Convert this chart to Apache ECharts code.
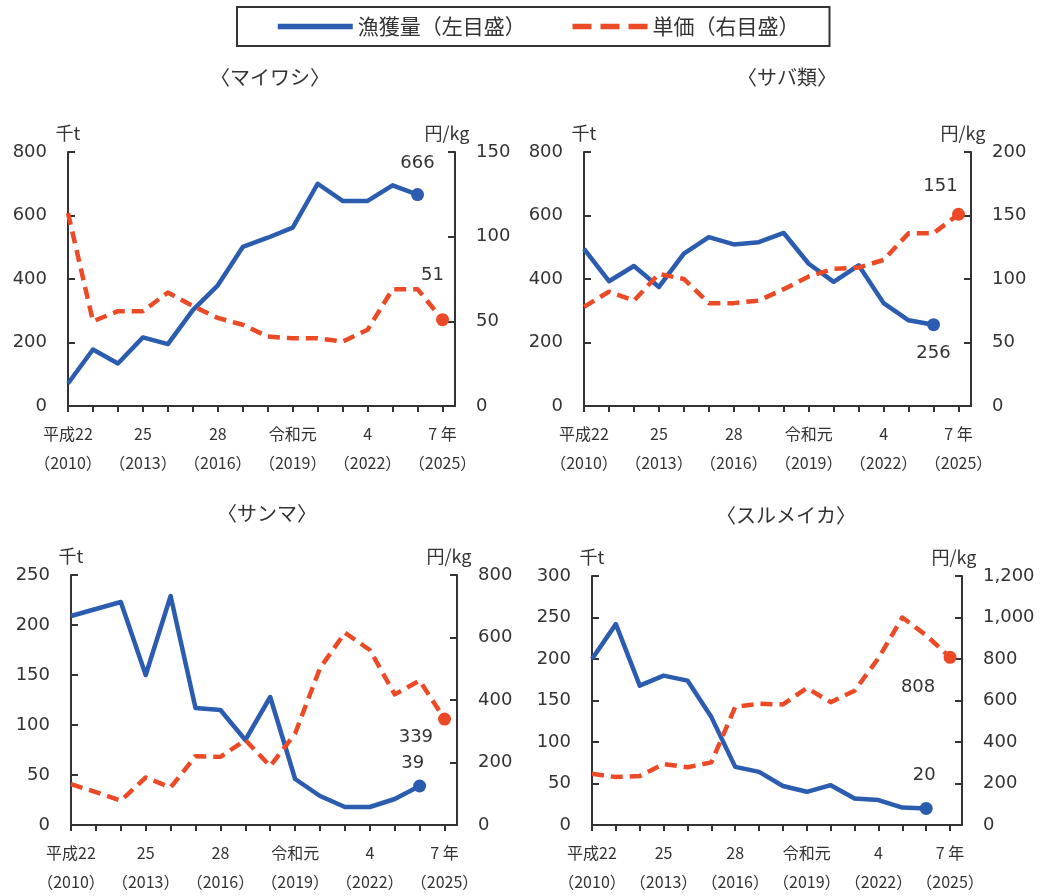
<!DOCTYPE html>
<html>
<head>
<meta charset="utf-8">
<script src="https://cdn.jsdelivr.net/npm/echarts@6/dist/echarts.min.js"></script>
<style>
  html, body { margin: 0; padding: 0; background: #ffffff; }
  #chart { width: 1042px; height: 896px; }
</style>
</head>
<body>
<div id="chart"></div>
<script>
// Years on the horizontal axis (catch runs to 2024, price to 2025)
const years = [2010, 2011, 2012, 2013, 2014, 2015, 2016, 2017, 2018, 2019, 2020, 2021, 2022, 2023, 2024, 2025];
const labelYears = [2010, 2013, 2016, 2019, 2022, 2025];
const yearLabels = ['平成22\n（2010）', '25\n（2013）', '28\n（2016）', '令和元\n（2019）', '4\n（2022）', '7 年\n（2025）'];

const panelTitles = ['〈マイワシ〉', '〈サバ類〉', '〈サンマ〉', '〈スルメイカ〉'];
const catchName = '漁獲量（左目盛）';
const priceName = '単価（右目盛）';
const catchUnit = '千t';
const priceUnit = '円/kg';

// Catch (thousand tonnes), 2010-2024
const sardineCatch  = [71, 178, 134, 216, 195, 302, 380, 501, 530, 562, 700, 646, 646, 695, 666];
const mackerelCatch = [495, 393, 441, 375, 480, 532, 509, 516, 545, 448, 391, 443, 324, 270, 256];
const sauryCatch    = [209, 216, 223, 150, 229, 117, 115, 85, 128, 46, 29, 18, 18, 26, 39];
const squidCatch    = [200, 242, 168, 180, 174, 130, 70, 64, 47, 40, 48, 32, 30, 21, 20];

// Unit price (yen/kg), 2010-2025
const sardinePrice  = [114, 50, 56, 56, 67, 59, 52, 48, 41, 40, 40, 38, 45, 69, 69, 51];
const mackerelPrice = [78, 90, 83, 104, 100, 81, 81, 83, 92, 102, 108, 109, 115, 136, 136, 151];
const sauryPrice    = [131, 105, 78, 152, 120, 220, 218, 272, 188, 293, 502, 615, 560, 418, 462, 339];
const squidPrice    = [247, 231, 236, 294, 278, 302, 569, 584, 581, 660, 592, 647, 804, 1000, 914, 808];

// Axis scales per panel: [min, max, interval]
const catchScales = [[0, 800, 200], [0, 800, 200], [0, 250, 50], [0, 300, 50]];
const priceScales = [[0, 150, 50], [0, 200, 50], [0, 800, 200], [0, 1200, 200]];

const catchSets = [sardineCatch, mackerelCatch, sauryCatch, squidCatch];
const priceSets = [sardinePrice, mackerelPrice, sauryPrice, squidPrice];

const BLUE = '#2b5cb0';
const RED = '#ec4a26';
const INK = '#333333';
const NUM_FONT = "'DejaVu Sans', 'Noto Sans CJK JP', sans-serif";
const JP_FONT = "'Noto Sans CJK JP', sans-serif";

const grids = [
  { left: 68,  top: 152, width: 387, height: 254 },
  { left: 584, top: 152, width: 387, height: 254 },
  { left: 71,  top: 575, width: 386, height: 255 },
  { left: 592, top: 576, width: 370, height: 255 }
];

// Placement of the value labels on the end points
const catchLabelPos = [
  { position: 'top', distance: 0, offset: [0, -16] },
  { position: 'bottom', distance: 0, offset: [0, 13] },
  { position: 'top', distance: 0, offset: [-7, -7] },
  { position: 'top', distance: 0, offset: [-2, -18] }
];
const priceLabelPos = [
  { position: 'top', distance: 0, offset: [-10, -29] },
  { position: 'top', distance: 0, offset: [-18, -12] },
  { position: 'left', distance: 5, offset: [0, 18] },
  { position: 'bottom', distance: 0, offset: [-32, 14] }
];

const titlePos = [[270, 77], [787, 77], [267, 513], [786, 515]];

const axisLineStyle = { color: INK, width: 2 };

const xAxes = grids.map((g, i) => ({
  gridIndex: i,
  type: 'value',
  min: 2010,
  max: 2025.5,
  interval: 1,
  axisLine: { show: true, onZero: false, lineStyle: axisLineStyle },
  axisTick: { show: true, length: 6, customValues: years, lineStyle: { color: INK, width: 2 } },
  axisLabel: {
    customValues: labelYears,
    formatter: v => yearLabels[labelYears.indexOf(v)] || '',
    margin: 13,
    fontSize: 16,
    lineHeight: 29,
    color: INK,
    fontFamily: JP_FONT
  },
  splitLine: { show: false }
}));

function valueAxis(i, scale, side, unit) {
  return {
    gridIndex: i,
    type: 'value',
    position: side,
    min: scale[0],
    max: scale[1],
    interval: scale[2],
    name: unit,
    nameLocation: 'end',
    nameGap: 10,
    nameTextStyle: {
      fontSize: 18, color: INK, fontFamily: JP_FONT,
      padding: side === 'right' ? [0, 16, 0, 0] : 0
    },
    axisLine: { show: true, lineStyle: axisLineStyle },
    axisTick: { show: true, inside: true, length: 7, lineStyle: { color: INK, width: 2 } },
    axisLabel: {
      margin: 21,
      fontSize: 18,
      color: INK,
      fontFamily: NUM_FONT,
      formatter: v => v.toLocaleString('en-US')
    },
    splitLine: { show: false }
  };
}

const yAxes = [];
grids.forEach((g, i) => {
  yAxes.push(valueAxis(i, catchScales[i], 'left', catchUnit));
  yAxes.push(valueAxis(i, priceScales[i], 'right', priceUnit));
});

function lineSeries(name, values, i, yIndex, color, dashed, labelPos) {
  return {
    type: 'line',
    name: name,
    xAxisIndex: i,
    yAxisIndex: yIndex,
    symbol: 'circle',
    symbolSize: 13,
    showSymbol: true,
    silent: true,
    animation: false,
    lineStyle: { color: color, width: 4.5, type: dashed ? [12, 7] : 'solid', cap: 'butt', join: 'round' },
    itemStyle: { color: color },
    data: values.map((v, k) => {
      if (k === values.length - 1) {
        return {
          value: [years[k], v],
          label: Object.assign({
            show: true,
            fontSize: 18,
            color: INK,
            fontFamily: NUM_FONT,
            formatter: p => String(p.value[1])
          }, labelPos)
        };
      }
      return { value: [years[k], v], symbol: 'none' };
    })
  };
}

const series = [];
grids.forEach((g, i) => {
  series.push(lineSeries(catchName, catchSets[i], i, i * 2, BLUE, false, catchLabelPos[i]));
  series.push(lineSeries(priceName, priceSets[i], i, i * 2 + 1, RED, true, priceLabelPos[i]));
});

const chart = echarts.init(document.getElementById('chart'), null, { renderer: 'canvas' });
chart.setOption({
  backgroundColor: '#ffffff',
  animation: false,
  grid: grids,
  xAxis: xAxes,
  yAxis: yAxes,
  series: series,
  legend: {
    left: 237,
    top: 7,
    padding: [9, 30, 9, 38],
    itemGap: 44,
    itemWidth: 75,
    itemHeight: 14,
    borderColor: INK,
    borderWidth: 2,
    borderRadius: 0,
    selectedMode: false,
    itemStyle: { opacity: 0 },
    lineStyle: { width: 5.5 },
    textStyle: { fontSize: 21, color: INK, fontFamily: JP_FONT },
    data: [
      { name: catchName },
      { name: priceName, lineStyle: { type: [19, 9], width: 5.5 } }
    ]
  },
  graphic: panelTitles.map((t, i) => ({
    type: 'text',
    x: titlePos[i][0],
    y: titlePos[i][1],
    silent: true,
    style: {
      text: t,
      fontSize: 20,
      fill: INK,
      fontFamily: JP_FONT,
      align: 'center',
      verticalAlign: 'middle'
    }
  }))
});
</script>
</body>
</html>
